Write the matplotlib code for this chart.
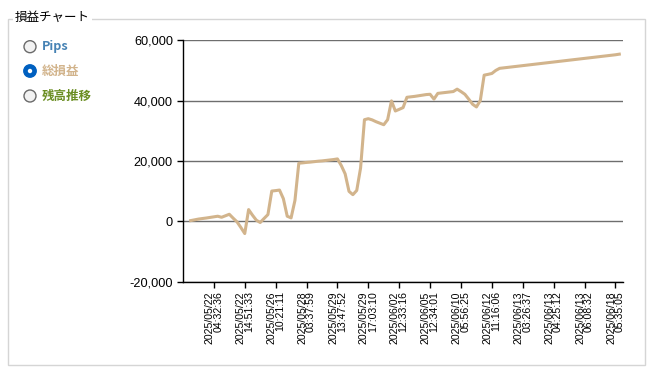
import matplotlib
matplotlib.use('Agg')
import matplotlib.pyplot as plt
from matplotlib.patches import Rectangle, Circle
from matplotlib.ticker import FuncFormatter

# ---------------- data ----------------
values = [
    200, 450, 700, 880, 1050, 1250, 1450, 1650, 1300, 1800,
    2300, 1000, -220, -2100, -4090, 3850, 2000, 330, -440, 900,
    2200, 10000, 10150, 10330, 7470, 1650, 1100, 6900, 19240, 19350,
    19500, 19600, 19750, 19900, 20000, 20150, 20300, 20450, 20660, 18460,
    15700, 9900, 8800, 10200, 17670, 33670, 34000, 33600, 33000, 32500,
    32000, 33670, 39900, 36560, 37100, 37670, 41100, 41250, 41400, 41600,
    41800, 42000, 42100, 40500, 42400, 42550, 42700, 42850, 43000, 43800,
    43000, 42100, 40500, 38800, 37900, 40000, 48440, 48700, 49000, 50000,
    50700, 50850, 51000, 51150, 51300, 51450, 51600, 51750, 51900, 52050,
    52200, 52350, 52500, 52650, 52800, 52950, 53100, 53250, 53400, 53550,
    53700, 53850, 54000, 54150, 54300, 54450, 54600, 54750, 54900, 55050,
    55200, 55400,
]
tick_index = [6, 14, 22, 30, 38, 46, 54, 62, 70, 78, 86, 94, 102, 110]
tick_labels = [
    "2025/05/22\n04:32:36", "2025/05/22\n14:51:33", "2025/05/26\n10:21:11",
    "2025/05/28\n03:37:59", "2025/05/29\n13:47:52", "2025/05/29\n17:03:10",
    "2025/06/02\n12:33:16", "2025/06/05\n12:34:01", "2025/06/10\n05:56:25",
    "2025/06/12\n11:16:06", "2025/06/13\n03:26:37", "2025/06/13\n04:25:12",
    "2025/06/13\n06:08:32", "2025/06/18\n05:35:05",
]
y_ticks = [-20000, 0, 20000, 40000, 60000]
group_title = "損益チャート"
radio_labels = ["Pips", "総損益", "残高推移"]
radio_colors = ["#4682B4", "#D2B48C", "#6B8E23"]
selected = 1
line_color = "#D2B48C"

# ---------------- figure ----------------
W, H = 654, 373
fig = plt.figure(figsize=(W / 100, H / 100), dpi=100)
fig.patch.set_facecolor("white")

# overlay in pixel coordinates for the form decorations
bg = fig.add_axes([0, 0, 1, 1])
bg.set_xlim(0, W)
bg.set_ylim(H, 0)
bg.axis("off")
bg.add_patch(Rectangle((7.5, 18.5), 637, 346.5, fill=False, ec="#d5d5d5", lw=1))
bg.text(15, 17, group_title, fontsize=9, ha="left", va="center",
        family=["Noto Sans CJK JP", "DejaVu Sans"], color="black",
        bbox=dict(fc="white", ec="none", pad=1.5))

radio_y = [46.7, 71.0, 96.0]
for i, (lab, col, ry) in enumerate(zip(radio_labels, radio_colors, radio_y)):
    if i == selected:
        bg.add_patch(Circle((30, ry), 6.2, fc="#0060c0", ec="#0060c0", lw=1))
        bg.add_patch(Circle((30, ry), 2.2, fc="white", ec="none"))
    else:
        bg.add_patch(Circle((30, ry), 6.0, fc="#f2f2f2", ec="#6a6a6a", lw=1))
    bg.text(42, ry, lab, fontsize=9, fontweight="bold", color=col,
            ha="left", va="center", family=["Noto Sans CJK JP", "DejaVu Sans"])

# chart axes
left_px, right_px, top_px, bot_px = 182.7, 622.7, 40.3, 281.5
ax = fig.add_axes([left_px / W, 1 - bot_px / H, (right_px - left_px) / W, (bot_px - top_px) / H])
ax.set_facecolor("none")
x = list(range(len(values)))
ax.plot(x, values, color=line_color, lw=2.2, solid_joinstyle="round", zorder=3)

ax.set_xlim(-2.07, 111.88)
ax.set_ylim(-20000, 60000)
ax.set_yticks(y_ticks)
ax.yaxis.set_major_formatter(FuncFormatter(lambda v, p: f"{int(v):,}"))
ax.set_xticks(tick_index)
ax.set_xticklabels(tick_labels, rotation=90, ha="center", va="top",
                   multialignment="right", linespacing=0.85,
                   family="Liberation Sans", fontsize=7.6)
for t in ax.get_yticklabels():
    t.set_family("Liberation Sans")
    t.set_fontsize(9.2)

ax.yaxis.grid(True, color="#6e6e6e", lw=1)
ax.xaxis.grid(False)
ax.set_axisbelow(True)
for s in ["top", "right"]:
    ax.spines[s].set_visible(False)
for s in ["left", "bottom"]:
    ax.spines[s].set_color("black")
    ax.spines[s].set_linewidth(1)
ax.tick_params(axis="y", direction="out", length=4, width=1, pad=3, colors="black")
ax.tick_params(axis="x", direction="out", length=4, width=1, pad=3, colors="black")

fig.savefig("out.png", dpi=100, facecolor="white")
